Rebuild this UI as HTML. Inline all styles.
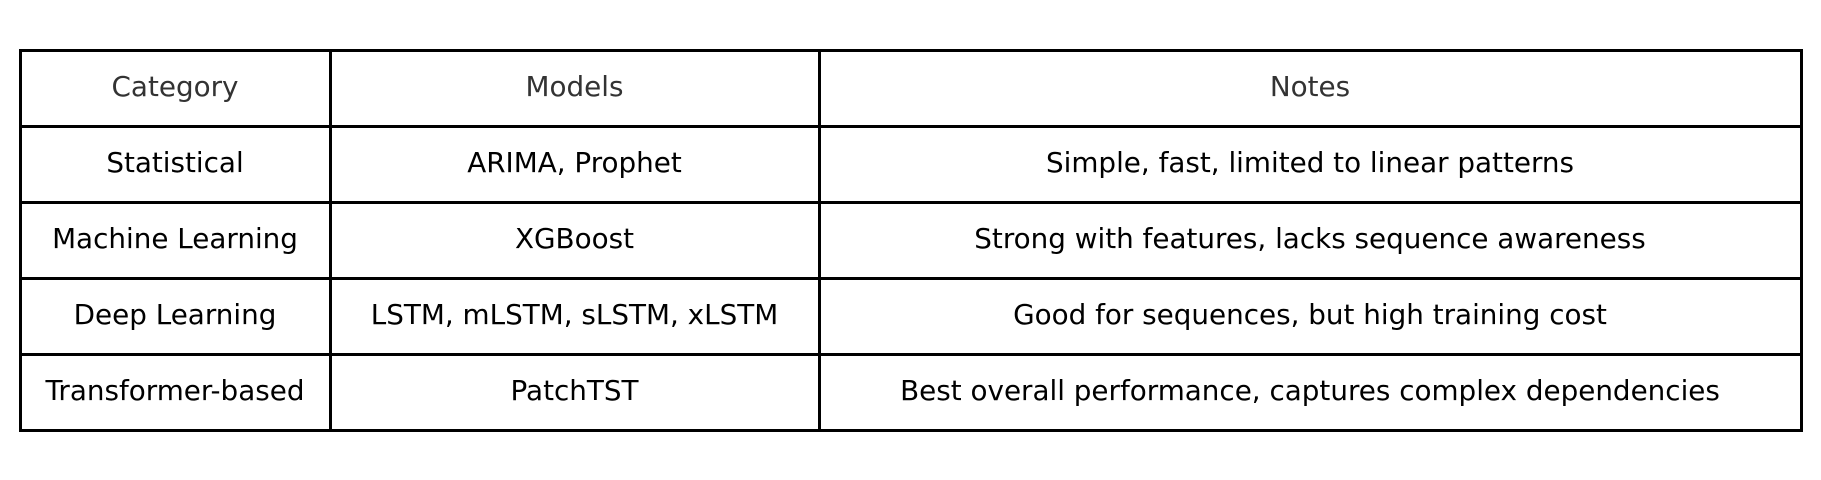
<!DOCTYPE html>
<html><head><style>
body{margin:0;width:1821px;height:480px;background:#fff;overflow:hidden;position:relative;font-family:"DejaVu Sans","Liberation Sans",sans-serif;}
.c{position:absolute;display:flex;align-items:center;justify-content:center;font-size:27.8px;color:#000;white-space:nowrap}
.h{color:#333}
.l{position:absolute;background:#000}
</style></head><body>
<div class="l" style="left:19px;top:49px;width:1784px;height:3px"></div>
<div class="l" style="left:19px;top:124.5px;width:1784px;height:3px"></div>
<div class="l" style="left:19px;top:200.5px;width:1784px;height:3px"></div>
<div class="l" style="left:19px;top:276.5px;width:1784px;height:3px"></div>
<div class="l" style="left:19px;top:352.5px;width:1784px;height:3px"></div>
<div class="l" style="left:19px;top:428.5px;width:1784px;height:3px"></div>
<div class="l" style="left:19px;top:49px;width:3px;height:382px"></div>
<div class="l" style="left:329px;top:49px;width:3px;height:382px"></div>
<div class="l" style="left:818px;top:49px;width:3px;height:382px"></div>
<div class="l" style="left:1800px;top:49px;width:3px;height:382px"></div>

<div class="c h" style="left:20px;top:48px;width:310px;height:76px">Category</div>
<div class="c h" style="left:330px;top:48px;width:489px;height:76px">Models</div>
<div class="c h" style="left:819px;top:48px;width:982px;height:76px">Notes</div>

<div class="c" style="left:20px;top:124px;width:310px;height:76px">Statistical</div>
<div class="c" style="left:330px;top:124px;width:489px;height:76px">ARIMA, Prophet</div>
<div class="c" style="left:819px;top:124px;width:982px;height:76px">Simple, fast, limited to linear patterns</div>

<div class="c" style="left:20px;top:200px;width:310px;height:76px">Machine Learning</div>
<div class="c" style="left:330px;top:200px;width:489px;height:76px">XGBoost</div>
<div class="c" style="left:819px;top:200px;width:982px;height:76px">Strong with features, lacks sequence awareness</div>

<div class="c" style="left:20px;top:276px;width:310px;height:76px">Deep Learning</div>
<div class="c" style="left:330px;top:276px;width:489px;height:76px">LSTM, mLSTM, sLSTM, xLSTM</div>
<div class="c" style="left:819px;top:276px;width:982px;height:76px">Good for sequences, but high training cost</div>

<div class="c" style="left:20px;top:352px;width:310px;height:76px">Transformer-based</div>
<div class="c" style="left:330px;top:352px;width:489px;height:76px">PatchTST</div>
<div class="c" style="left:819px;top:352px;width:982px;height:76px">Best overall performance, captures complex dependencies</div>
</body></html>
